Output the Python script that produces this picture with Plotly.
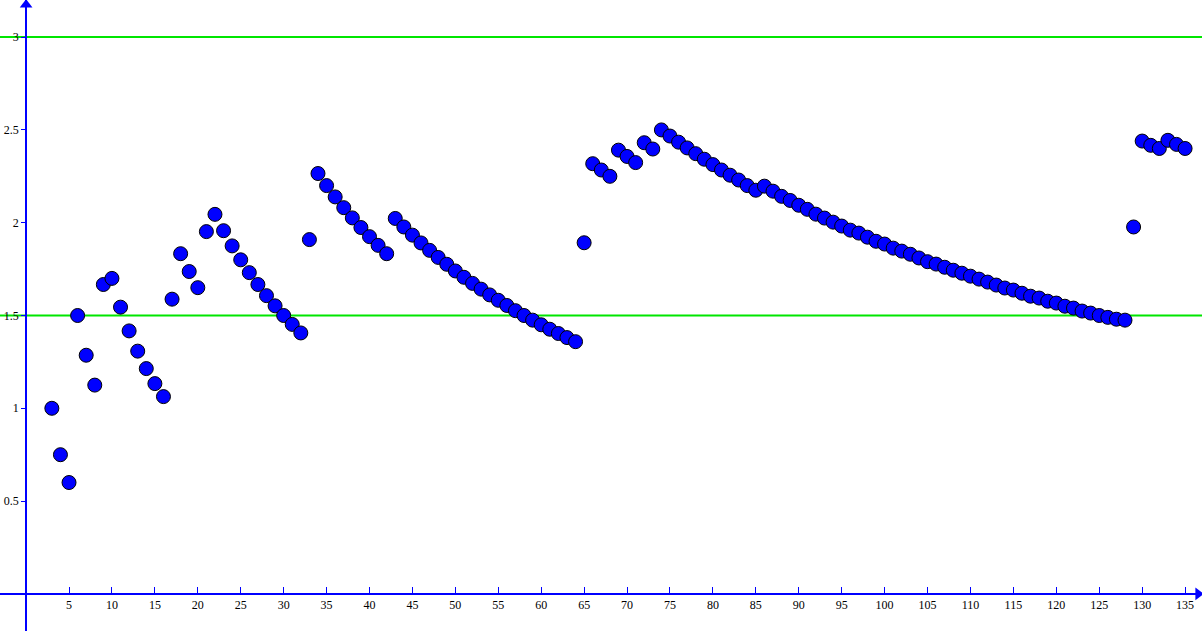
import plotly.graph_objects as go

# index values along the horizontal axis
x_vals = list(range(3, 136))

# ratio values, ten per row (x = 3..12, 13..22, ...)
y_vals = [
    1.00, 0.75, 0.60, 1.50, 1.286, 1.125, 1.667, 1.70, 1.545, 1.417,
    1.308, 1.214, 1.133, 1.063, 1.588, 1.833, 1.737, 1.65, 1.952, 2.045,
    1.957, 1.875, 1.80, 1.731, 1.667, 1.607, 1.552, 1.50, 1.452, 1.406,
    1.909, 2.265, 2.20, 2.139, 2.081, 2.026, 1.974, 1.925, 1.878, 1.833,
    2.023, 1.977, 1.933, 1.891, 1.851, 1.813, 1.776, 1.74, 1.706, 1.673,
    1.642, 1.611, 1.582, 1.554, 1.526, 1.50, 1.475, 1.45, 1.426, 1.403,
    1.381, 1.359, 1.892, 2.318, 2.284, 2.25, 2.391, 2.357, 2.324, 2.431,
    2.397, 2.50, 2.467, 2.434, 2.403, 2.372, 2.342, 2.313, 2.284, 2.256,
    2.23, 2.20, 2.175, 2.197, 2.17, 2.142, 2.12, 2.094, 2.072, 2.046,
    2.025, 2.003, 1.982, 1.96, 1.944, 1.922, 1.90, 1.885, 1.863, 1.847,
    1.83, 1.81, 1.79, 1.777, 1.76, 1.744, 1.728, 1.712, 1.696, 1.68,
    1.664, 1.648, 1.637, 1.62, 1.604, 1.594, 1.577, 1.567, 1.55, 1.54,
    1.524, 1.513, 1.50, 1.49, 1.48, 1.475, 1.977, 2.44, 2.417, 2.40,
    2.444, 2.422, 2.40,
]

x_ticks = list(range(5, 136, 5))
y_ticks = [0.5, 1, 1.5, 2, 2.5, 3]
ref_levels = [1.5, 3]

x_range = [-3.04, 136.97]
y_range = [-0.2, 3.2]
x0_frac = (0 - x_range[0]) / (x_range[1] - x_range[0])
y0_frac = (0 - y_range[0]) / (y_range[1] - y_range[0])

blue = "#0000ff"
green = "#00e600"
tick_font = dict(family="Liberation Serif, Times New Roman, serif", size=12, color="#000000")

fig = go.Figure()

fig.add_trace(go.Scatter(
    x=x_vals, y=y_vals, mode="markers",
    marker=dict(size=14, color=blue, line=dict(color="#000000", width=1)),
    showlegend=False, hoverinfo="x+y",
))

# arrow heads on the axes
fig.add_trace(go.Scatter(
    x=[x_range[1] - 0.45], y=[0], mode="markers",
    marker=dict(symbol="triangle-right", size=11, color=blue),
    showlegend=False, hoverinfo="skip", cliponaxis=False,
))
fig.add_trace(go.Scatter(
    x=[0], y=[y_range[1] - 0.025], mode="markers",
    marker=dict(symbol="triangle-up", size=11, color=blue),
    showlegend=False, hoverinfo="skip", cliponaxis=False,
))

for lvl in ref_levels:
    fig.add_shape(type="line", xref="paper", x0=0, x1=1, yref="y", y0=lvl, y1=lvl,
                  line=dict(color=green, width=2), layer="below")

fig.update_layout(
    width=1202, height=631,
    margin=dict(l=0, r=0, t=0, b=0),
    paper_bgcolor="white", plot_bgcolor="white",
    xaxis=dict(
        range=x_range, showgrid=False, zeroline=False,
        showline=True, linecolor=blue, linewidth=2,
        anchor="free", position=y0_frac,
        tickmode="array", tickvals=x_ticks, ticktext=[str(v) for v in x_ticks],
        ticks="inside", ticklen=6, tickwidth=1, tickcolor=blue,
        tickfont=tick_font,
    ),
    yaxis=dict(
        range=y_range, showgrid=False, zeroline=False,
        showline=True, linecolor=blue, linewidth=2,
        anchor="free", position=x0_frac,
        tickmode="array", tickvals=y_ticks, ticktext=[str(v) for v in y_ticks],
        ticks="outside", ticklen=4, tickwidth=1, tickcolor=blue,
        tickfont=tick_font, ticklabelstandoff=0,
    ),
    yaxis2=dict(
        range=y_range, overlaying="y", showgrid=False, zeroline=False,
        showline=False, anchor="free", position=x0_frac,
        tickmode="array", tickvals=y_ticks, showticklabels=False,
        ticks="inside", ticklen=5, tickwidth=1, tickcolor=blue,
    ),
)

# the page body has a default 8px margin; drop it so the figure fills the window
fig.write_html("out.html", config={"displayModeBar": False},
               post_script="document.body.style.margin='0';document.body.style.padding='0';")
